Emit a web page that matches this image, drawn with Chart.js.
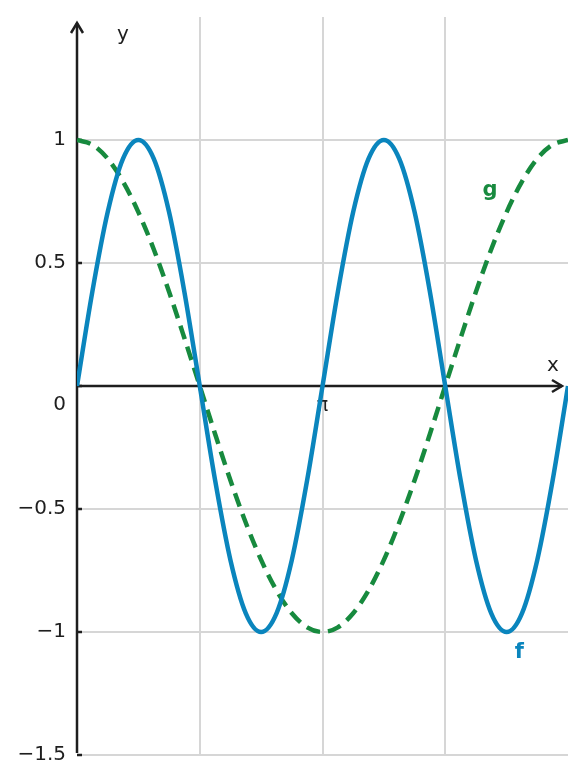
<!DOCTYPE html>
<html>
<head>
<meta charset="utf-8">
<script src="https://cdn.jsdelivr.net/npm/chart.js@4/dist/chart.umd.min.js"></script>
<style>
  html, body { margin: 0; padding: 0; background: #fff; }
  #wrap { width: 586px; height: 783px; position: relative; }
</style>
</head>
<body>
<div id="wrap"><canvas id="myChart"></canvas></div>
<script>
// x positions (radians), 0 .. 2pi
const xValues = [0, 0.196, 0.393, 0.589, 0.785, 0.982, 1.178, 1.374, 1.571, 1.767, 1.963, 2.160, 2.356,
  2.553, 2.749, 2.945, 3.142, 3.338, 3.534, 3.731, 3.927, 4.123, 4.320, 4.516, 4.712, 4.909, 5.105,
  5.301, 5.498, 5.694, 5.890, 6.087, 6.283];
// f, solid blue
const fValues = [0, 0.383, 0.707, 0.924, 1, 0.924, 0.707, 0.383, 0, -0.383, -0.707, -0.924, -1,
  -0.924, -0.707, -0.383, 0, 0.383, 0.707, 0.924, 1, 0.924, 0.707, 0.383, 0, -0.383, -0.707,
  -0.924, -1, -0.924, -0.707, -0.383, 0];
// g, dashed green
const gValues = [1, 0.981, 0.924, 0.831, 0.707, 0.556, 0.383, 0.195, 0, -0.195, -0.383, -0.556, -0.707,
  -0.831, -0.924, -0.981, -1, -0.981, -0.924, -0.831, -0.707, -0.556, -0.383, -0.195, 0, 0.195, 0.383,
  0.556, 0.707, 0.831, 0.924, 0.981, 1];

const xTicks = [1.571, 3.142, 4.712];
const xTickLabels = ['', 'π', ''];
const yTicks = [-1.5, -1, -0.5, 0, 0.5, 1, 1.5];
const curveNames = ['f', 'g'];
const curveLabelX = [5.66, 5.285];
const curveLabelY = [-1.083, 0.793];

const blue = '#0a85bd';
const green = '#178a3e';
const ink = '#1e1e1e';
const FONT = '"DejaVu Sans", sans-serif';

function pts(ys) {
  return xValues.map((x, i) => ({ x: x, y: ys[i] }));
}

const axesPlugin = {
  id: 'axesPlugin',
  beforeDatasetsDraw(chart) {
    const ctx = chart.ctx;
    const xs = chart.scales.x, ys = chart.scales.y;
    const area = chart.chartArea;
    const x0 = xs.getPixelForValue(0);
    const y0 = ys.getPixelForValue(0);
    ctx.save();
    ctx.strokeStyle = ink;
    ctx.lineWidth = 2.5;
    // y axis
    ctx.beginPath();
    ctx.moveTo(x0, area.bottom - 2);
    ctx.lineTo(x0, area.top + 6);
    ctx.stroke();
    ctx.beginPath();
    ctx.moveTo(x0 - 6, area.top + 16);
    ctx.lineTo(x0, area.top + 6);
    ctx.lineTo(x0 + 6, area.top + 16);
    ctx.stroke();
    // x axis
    ctx.beginPath();
    ctx.moveTo(x0, y0);
    ctx.lineTo(area.right - 6, y0);
    ctx.stroke();
    ctx.beginPath();
    ctx.moveTo(area.right - 16, y0 - 6);
    ctx.lineTo(area.right - 6, y0);
    ctx.lineTo(area.right - 16, y0 + 6);
    ctx.stroke();
    // small inner ticks on y axis
    yTicks.forEach(v => {
      if (v === 1.5) return;
      const py = ys.getPixelForValue(v);
      ctx.beginPath();
      ctx.moveTo(x0, py);
      ctx.lineTo(x0 + 5, py);
      ctx.stroke();
    });
    // texts
    ctx.fillStyle = ink;
    ctx.font = '20px ' + FONT;
    ctx.textAlign = 'right';
    ctx.textBaseline = 'middle';
    ctx.fillText('0', 66, y0 + 19);
    ctx.textAlign = 'center';
    ctx.fillText('y', 123, 35);
    ctx.fillText('x', 553, 366);
    ctx.restore();
  },
  afterDatasetsDraw(chart) {
    const ctx = chart.ctx;
    const xs = chart.scales.x, ys = chart.scales.y;
    ctx.save();
    ctx.font = 'bold 21px ' + FONT;
    ctx.textAlign = 'center';
    ctx.textBaseline = 'middle';
    curveNames.forEach((name, i) => {
      ctx.fillStyle = i === 0 ? blue : green;
      ctx.fillText(name, xs.getPixelForValue(curveLabelX[i]), ys.getPixelForValue(curveLabelY[i]));
    });
    ctx.restore();
  }
};

const ctx = document.getElementById('myChart');
const myChart = new Chart(ctx, {
  type: 'line',
  data: {
    datasets: [
      {
        label: 'f',
        data: pts(fValues),
        borderColor: blue,
        borderWidth: 4.5,
        pointRadius: 0,
        cubicInterpolationMode: 'monotone',
        fill: false
      },
      {
        label: 'g',
        data: pts(gValues),
        borderColor: green,
        borderWidth: 4.5,
        borderDash: [14, 8],
        pointRadius: 0,
        cubicInterpolationMode: 'monotone',
        fill: false
      }
    ]
  },
  options: {
    responsive: true,
    maintainAspectRatio: false,
    animation: false,
    layout: { padding: { left: 0, right: 18, top: 17, bottom: 28 } },
    plugins: { legend: { display: false }, tooltip: { enabled: false } },
    scales: {
      x: {
        type: 'linear',
        position: { y: 0 },
        min: 0,
        max: 6.283,
        afterBuildTicks(scale) {
          scale.ticks = xTicks.map(v => ({ value: v }));
        },
        ticks: {
          autoSkip: false,
          maxRotation: 0,
          padding: 9,
          color: ink,
          font: { family: FONT, size: 19 },
          callback: (v, i) => xTickLabels[i]
        },
        grid: { color: '#d6d6d6', lineWidth: 2, drawTicks: false },
        border: { display: false }
      },
      y: {
        type: 'linear',
        min: -1.5,
        max: 1.5,
        afterBuildTicks(scale) {
          scale.ticks = yTicks.map(v => ({ value: v }));
        },
        afterFit(scale) {
          scale.width = 77;
          scale.paddingTop = 0;
          scale.paddingBottom = 0;
        },
        ticks: {
          padding: 11,
          color: ink,
          font: { family: FONT, size: 20 },
          callback: v => (v === 0 || v === 1.5) ? '' : String(v).replace('-', '\u2212')
        },
        grid: {
          lineWidth: 2,
          drawTicks: false,
          color: c => (c.tick && (c.tick.value === 1.5 || c.tick.value === 0)) ? 'rgba(0,0,0,0)' : '#d6d6d6'
        },
        border: { display: false }
      }
    }
  },
  plugins: [axesPlugin]
});
</script>
</body>
</html>
